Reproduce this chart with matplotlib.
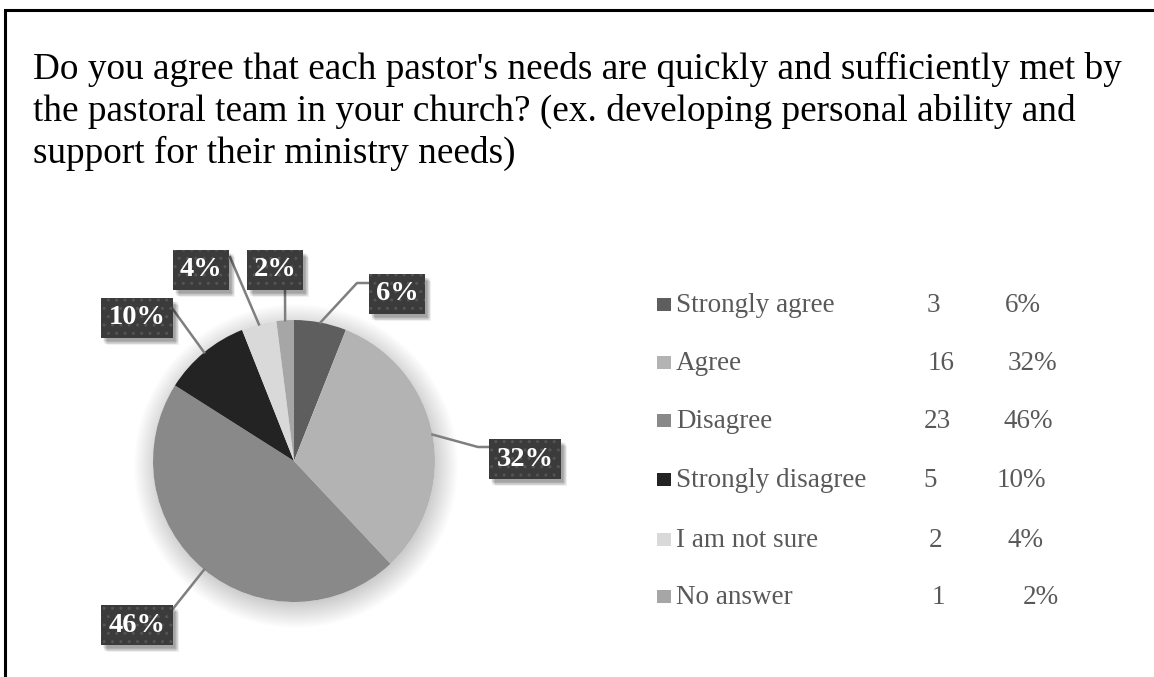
import numpy as np
import matplotlib.pyplot as plt
from matplotlib.patches import Circle, Rectangle

plt.rcParams['font.family'] = ['Liberation Serif', 'DejaVu Serif']

W, H = 1154, 677

title_lines = ["Do you agree that each pastor's needs are quickly and sufficiently met by",
               "the pastoral team in your church? (ex. developing personal ability and",
               "support for their ministry needs)"]
categories = ['Strongly agree', 'Agree', 'Disagree', 'Strongly disagree',
              'I am not sure', 'No answer']
counts = [3, 16, 23, 5, 2, 1]
colors = ['#5e5e5e', '#b3b3b3', '#898989', '#232323', '#d9d9d9', '#a6a6a6']

# layout (pixel coords, y measured from the top)
cx, cy, r = 294, 461, 141
box_centers = [(397, 294), (525, 459), (137, 625), (137, 318), (201, 270), (275, 270)]
# extra points on the leader lines between the pie edge and the box
elbows = [[(357, 283), (369, 283)], [(478, 447), (489, 447)], [(172, 610)],
          [(172, 308)], [(230, 257)], [(285, 289)]]
count_x = [927, 928, 924, 923, 929, 932]
pct_x = [1005, 1008, 1003, 997, 1008, 1023]
row_base = [312, 370, 428, 487, 547, 604]

total = sum(counts)
pcts = [100.0 * c / total for c in counts]

def Y(y):
    return H - y

fig = plt.figure(figsize=(W / 100, H / 100), dpi=100)
ax = fig.add_axes([0, 0, 1, 1])

# frame
ax.plot([5, 5, W + 5], [-5, Y(10), Y(10)], color='black', lw=2.2, solid_joinstyle='miter')

for i, line in enumerate(title_lines):
    ax.text(33, Y(79 + 42 * i), line, fontsize=26.8, color='black', va='baseline', ha='left')

# soft halo under the pie
for k in range(26):
    ax.add_patch(Circle((cx + 2, Y(cy) - 5), r - 4 + k, color='black', alpha=0.0075,
                        lw=0, zorder=1))
ax.add_patch(Circle((cx, Y(cy)), r, color='white', lw=0, zorder=1.5))

wedges, _ = ax.pie(counts, colors=colors, startangle=90, counterclock=False,
                   center=(cx, Y(cy)), radius=r, frame=True,
                   wedgeprops=dict(linewidth=0, zorder=2))
ax.set_xlim(0, W)
ax.set_ylim(0, H)
ax.set_aspect('equal')
ax.axis('off')

labels = []
for w, p, (bx, by), pts in zip(wedges, pcts, box_centers, elbows):
    mid = np.deg2rad((w.theta1 + w.theta2) / 2)
    sx, sy = cx + r * np.cos(mid), Y(cy) + r * np.sin(mid)
    xs = [sx] + [q[0] for q in pts]
    ys = [sy] + [Y(q[1]) for q in pts]
    ax.plot(xs, ys, color='#7f7f7f', lw=1.8, zorder=3)
    t = ax.text(bx, Y(by), '%d%%' % round(p), ha='center', va='center', fontsize=20.5,
                fontweight='bold', color='white', zorder=5,
                bbox=dict(boxstyle='square,pad=0.25', fc='#3b3b3b', ec='#545454',
                          lw=0, hatch='..'))
    labels.append(t)

# blurred drop shadow behind each label box: a few faint offset rectangles
fig.canvas.draw()
for t in labels:
    bb = t.get_bbox_patch().get_window_extent()
    for dx, dy in [(2, 3), (3, 4), (4, 5), (5, 6), (3, 6), (5, 4), (6, 7)]:
        ax.add_patch(Rectangle((bb.x0 + dx, bb.y0 - dy), bb.width, bb.height,
                               color='black', alpha=0.06, lw=0, zorder=4))

# legend with counts and shares
for i, cat in enumerate(categories):
    yb = Y(row_base[i])
    ax.add_patch(Rectangle((657, yb + 1), 14, 13, color=colors[i], lw=0))
    ax.text(676, yb, cat, fontsize=19.5, color='#595959', va='baseline')
    ax.text(count_x[i], yb, str(counts[i]), fontsize=19.5, color='#595959', va='baseline')
    ax.text(pct_x[i], yb, '%d%%' % round(pcts[i]), fontsize=19.5, color='#595959',
            va='baseline')

fig.savefig('out.png', dpi=100)
